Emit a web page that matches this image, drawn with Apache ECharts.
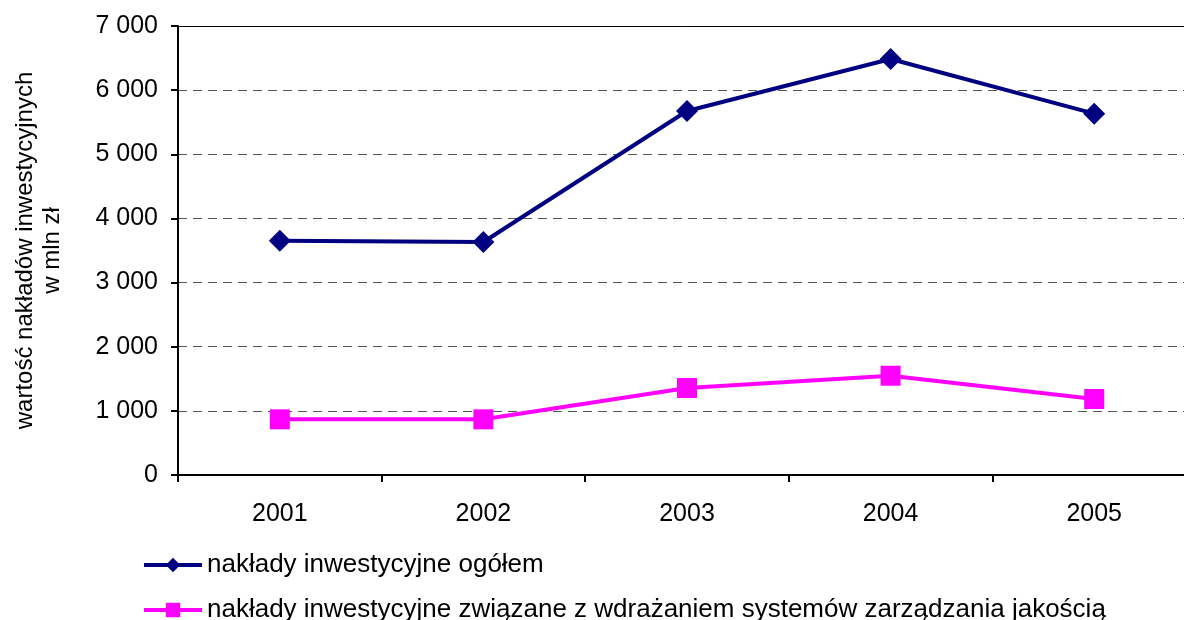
<!DOCTYPE html>
<html>
<head>
<meta charset="utf-8">
<script src="https://cdn.jsdelivr.net/npm/echarts@6/dist/echarts.min.js"></script>
<style>
  html, body { margin: 0; padding: 0; background: #fff; }
  #chart { width: 1184px; height: 620px; }
</style>
</head>
<body>
<div id="chart"></div>
<script>
const years = ['2001', '2002', '2003', '2004', '2005'];
const totalInvest = [3653, 3633, 5675, 6486, 5633];
const qualityInvest = [868, 868, 1356, 1548, 1185];
const seriesNames = [
  'nakłady inwestycyjne ogółem',
  'nakłady inwestycyjne związane z wdrażaniem systemów zarządzania jakością'
];

const chart = echarts.init(document.getElementById('chart'));
const font = 'Liberation Sans, Arial, sans-serif';

// "7000" -> "7 000"
const fmt = v => v === 0 ? '0' : String(v).replace(/\B(?=(\d{3})+(?!\d))/g, ' ');

const legendBase = {
  orient: 'vertical',
  left: 142,
  padding: 0,
  itemWidth: 58,
  itemHeight: 18,
  lineStyle: { width: 4 },
  textStyle: { fontSize: 26, color: '#000', fontFamily: font }
};

chart.setOption({
  animation: false,
  textStyle: { fontFamily: font },
  grid: { left: 178, right: -12, top: 26, bottom: 145, outerBoundsMode: 'none' },
  legend: [
    Object.assign({}, legendBase, { top: 552, data: [seriesNames[0]] }),
    Object.assign({}, legendBase, { top: 597, data: [seriesNames[1]] })
  ],
  xAxis: [{
    type: 'category',
    data: years,
    boundaryGap: true,
    axisLine: { lineStyle: { color: '#000', width: 2 } },
    axisTick: { show: true, length: 7, lineStyle: { color: '#000', width: 2 } },
    axisLabel: { fontSize: 25, color: '#000', margin: 27 }
  }, {
    type: 'category',
    data: years,
    position: 'top',
    axisLine: { lineStyle: { color: '#000', width: 1 } },
    axisTick: { show: false },
    axisLabel: { show: false }
  }],
  yAxis: {
    type: 'value',
    min: 0,
    max: 7000,
    interval: 1000,
    name: 'wartość nakładów inwestycyjnych\nw mln zł',
    nameLocation: 'middle',
    nameGap: 112,
    nameTextStyle: { fontSize: 24, color: '#000', lineHeight: 27 },
    axisLine: { show: true, lineStyle: { color: '#000', width: 2 } },
    axisTick: { show: true, length: 7, lineStyle: { color: '#000', width: 2 } },
    axisLabel: { fontSize: 25, color: '#000', margin: 20, formatter: fmt },
    splitLine: { show: true, lineStyle: { color: '#555', type: [9, 6], width: 1 } }
  },
  series: [{
    name: seriesNames[0],
    type: 'line',
    data: totalInvest,
    symbol: 'diamond',
    symbolSize: 22,
    lineStyle: { color: '#000080', width: 4 },
    itemStyle: { color: '#000080' }
  }, {
    name: seriesNames[1],
    type: 'line',
    data: qualityInvest,
    symbol: 'rect',
    symbolSize: 20,
    lineStyle: { color: '#FF00FF', width: 4 },
    itemStyle: { color: '#FF00FF' }
  }]
});
</script>
</body>
</html>
